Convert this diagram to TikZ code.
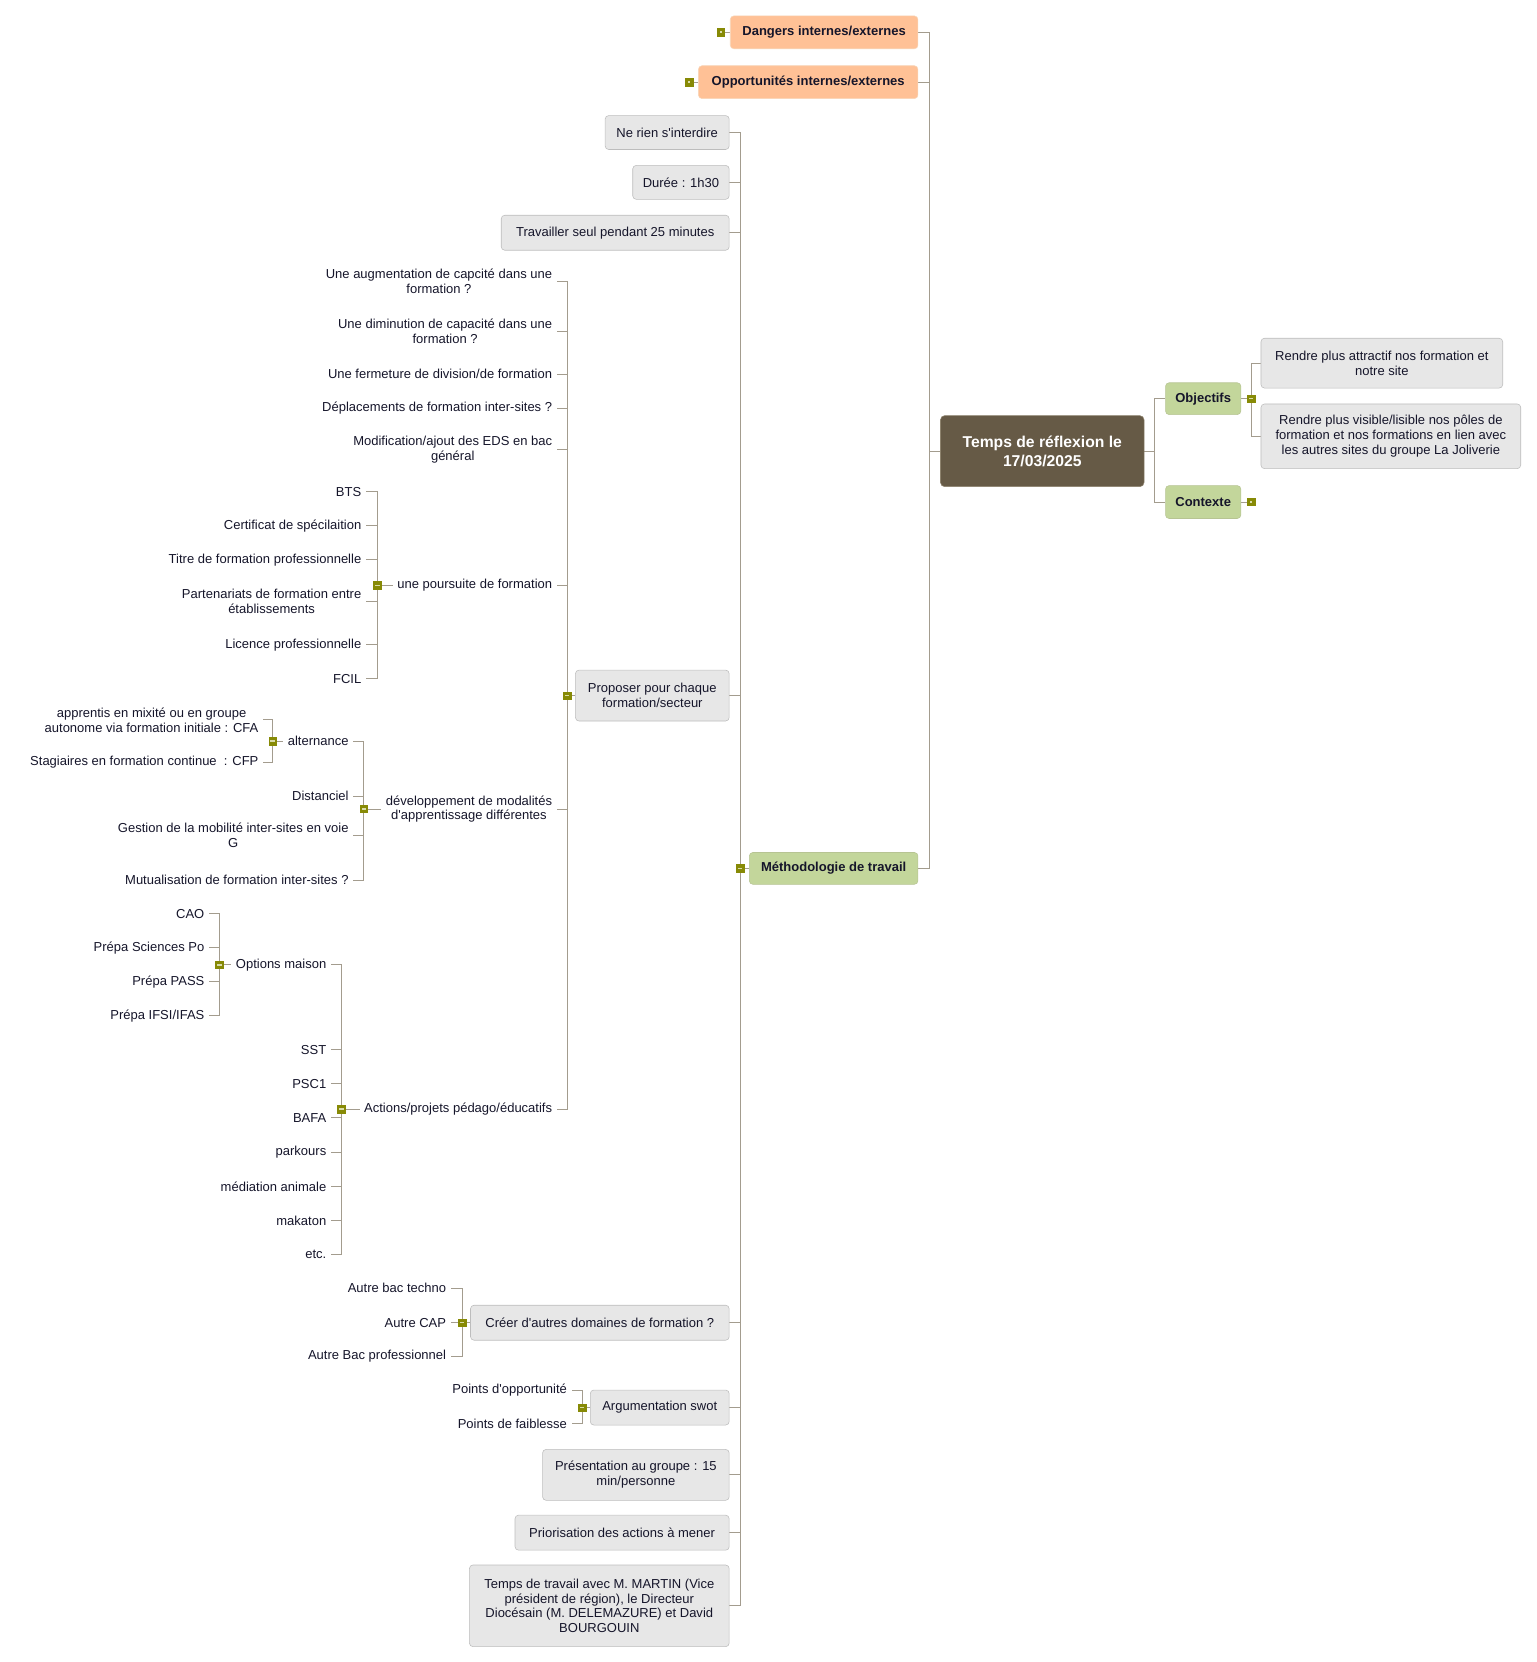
\documentclass[tikz,border=0pt]{standalone}
\usepackage{fontspec}
\setmainfont{Liberation Sans}
\usetikzlibrary{backgrounds}

\definecolor{ink}{HTML}{15152A}
\definecolor{lnk}{HTML}{A39C8E}
\definecolor{boxg}{HTML}{E7E7E7}
\definecolor{boxgline}{HTML}{BDBDBD}
\definecolor{peach}{HTML}{FFC196}
\definecolor{peachline}{HTML}{F8D6B8}
\definecolor{sage}{HTML}{C3D69B}
\definecolor{sageline}{HTML}{B7C493}
\definecolor{bark}{HTML}{665A46}
\definecolor{barkline}{HTML}{8E836E}
\definecolor{olivebtn}{HTML}{878A06}
\definecolor{olivemark}{HTML}{D9DBA8}

\newdimen\mmpx
\mmpx=0.75pt
\newcommand{\apos}{\textquotesingle}

\begin{document}
\begin{tikzpicture}[x=0.75pt,y=-0.75pt,
    every node/.style={font=\fontsize{9.2}{10.5}\selectfont, text=ink},
    sz/.style 2 args={minimum width=#1\mmpx, minimum height=#2\mmpx},
    greybox/.style={draw=boxgline, fill=boxg, rounded corners=2.5pt, align=center, inner xsep=2pt, inner ysep=1pt},
    peachbox/.style={draw=peachline, fill=peach, rounded corners=2.5pt, inner xsep=2pt, font=\fontsize{9.2}{10.5}\selectfont\bfseries},
    sagebox/.style={draw=sageline, fill=sage, rounded corners=2.5pt, inner xsep=2pt, font=\fontsize{9.2}{10.5}\selectfont\bfseries},
    central/.style={draw=barkline, fill=bark, rounded corners=3pt, align=center, text=white, font=\fontsize{11.1}{13.5}\selectfont\bfseries},
    leaf/.style={anchor=east, align=center, inner xsep=3pt, inner ysep=1pt},
    link/.style={draw=lnk, line width=0.7pt},
    mopen/.style={draw=olivebtn, fill=olivebtn, minimum size=7\mmpx, inner sep=0pt,
      path picture={\fill[olivemark] ([shift={(-2,-0.7)}]path picture bounding box.center) rectangle ([shift={(2,0.7)}]path picture bounding box.center);}},
    mshut/.style={draw=olivebtn, fill=olivebtn, minimum size=7\mmpx, inner sep=0pt,
      path picture={\fill[olivemark] ([shift={(-1,-1)}]path picture bounding box.center) rectangle ([shift={(1,1)}]path picture bounding box.center);}}]

\useasboundingbox (0,0) rectangle (1449,1567.5);

\node[central, sz={192}{67}] (centre) at (983,425.5) {Temps de réflexion le\\17/03/2025};

\node[peachbox, sz={177}{31}, anchor=east] (dangers) at (866,30.5) {Dangers internes/externes};
\node[peachbox, sz={207}{31}, anchor=east] (opport) at (866,77.5) {Opportunités internes/externes};
\node[sagebox, sz={159}{30}, anchor=east] (methodo) at (866,819) {Méthodologie de travail};
\node[sagebox, sz={71}{30}, anchor=west] (objectifs) at (1099,376) {Objectifs};
\node[sagebox, sz={71}{31}, anchor=west] (contexte) at (1099,473.5) {Contexte};

\node[greybox, sz={228}{47}, anchor=west] (attractif) at (1189,342.5) {Rendre plus attractif nos formation et\\notre site};
\node[greybox, sz={245}{61}, anchor=west] (visible) at (1189,411.5) {Rendre plus visible/lisible nos pôles de\\formation et nos formations en lien avec\\les autres sites du groupe La Joliverie};

\node[greybox, sz={117}{32}, anchor=east] (nerien) at (688,125) {Ne rien s\apos interdire};
\node[greybox, sz={91}{32}, anchor=east] (duree) at (688,172) {Durée : 1h30};
\node[greybox, sz={215}{33}, anchor=east] (seul) at (688,219.5) {Travailler seul pendant 25 minutes};
\node[greybox, sz={145}{48}, anchor=east] (proposer) at (688,656) {Proposer pour chaque\\formation/secteur};
\node[greybox, sz={244}{33}, anchor=east] (creer) at (688,1247.5) {Créer d\apos autres domaines de formation ?};
\node[greybox, sz={131}{33}, anchor=east] (swot) at (688,1327.5) {Argumentation swot};
\node[greybox, sz={176}{48}, anchor=east] (presentation) at (688,1391) {Présentation au groupe : 15\\min/personne};
\node[greybox, sz={202}{33}, anchor=east] (priorisation) at (688,1445.5) {Priorisation des actions à mener};
\node[greybox, sz={245}{77}, anchor=east] (reunion) at (688,1514.5) {Temps de travail avec M. MARTIN (Vice\\président de région), le Directeur\\Diocésain (M. DELEMAZURE) et David\\BOURGOUIN};

\node[leaf] (augm) at (525,265.5) {Une augmentation de capcité dans une\\formation ?};
\node[leaf] (dimin) at (525,312.5) {Une diminution de capacité dans une\\formation ?};
\node[leaf] (ferm) at (525,353) {Une fermeture de division/de formation};
\node[leaf] (depl) at (525,385) {Déplacements de formation inter-sites ?};
\node[leaf] (modif) at (525,424) {Modification/ajout des EDS en bac\\général};
\node[leaf] (pours) at (525,552) {une poursuite de formation};
\node[leaf] (dev) at (525,763) {développement de modalités\\d\apos apprentissage différentes};
\node[leaf] (act) at (525,1046) {Actions/projets pédago/éducatifs};

\node[leaf] (bts) at (345,464) {BTS};
\node[leaf] (certif) at (345,496) {Certificat de spécilaition};
\node[leaf] (titre) at (345,528) {Titre de formation professionnelle};
\node[leaf] (partn) at (345,567) {Partenariats de formation entre\\établissements};
\node[leaf] (licence) at (345,608) {Licence professionnelle};
\node[leaf] (fcil) at (345,640) {FCIL};

\node[leaf] (alt) at (333,699) {alternance};
\node[leaf] (dist) at (333,751) {Distanciel};
\node[leaf] (mobil) at (333,788) {Gestion de la mobilité inter-sites en voie\\G};
\node[leaf] (mutu) at (333,830) {Mutualisation de formation inter-sites ?};

\node[leaf] (cfa) at (248,679) {apprentis en mixité ou en groupe\\autonome via formation initiale : CFA};
\node[leaf] (cfp) at (248,719) {Stagiaires en formation continue \ : CFP};

\node[leaf] (options) at (312,910) {Options maison};
\node[leaf] (sst) at (312,990) {SST};
\node[leaf] (psc) at (312,1022) {PSC1};
\node[leaf] (bafa) at (312,1054) {BAFA};
\node[leaf] (parkours) at (312,1087) {parkours};
\node[leaf] (mediation) at (312,1119) {médiation animale};
\node[leaf] (makaton) at (312,1151) {makaton};
\node[leaf] (etc) at (312,1183) {etc.};

\node[leaf] (cao) at (197,862) {CAO};
\node[leaf] (scpo) at (197,894) {Prépa Sciences Po};
\node[leaf] (pass) at (197,926) {Prépa PASS};
\node[leaf] (ifsi) at (197,958) {Prépa IFSI/IFAS};

\node[leaf] (techno) at (425,1215) {Autre bac techno};
\node[leaf] (cap) at (425,1247.5) {Autre CAP};
\node[leaf] (bacpro) at (425,1279) {Autre Bac professionnel};

\node[leaf] (opportun) at (539,1311) {Points d\apos opportunité};
\node[leaf] (faible) at (539,1343) {Points de faiblesse};

\node[mshut] (mdang) at (680,30.5) {};
\node[mshut] (mopp) at (650,77.5) {};
\node[mshut] (mctx) at (1180,473.5) {};
\node[mopen] (mobj) at (1180,376) {};
\node[mopen] (mmeth) at (698,819) {};
\node[mopen] (mprop) at (535,656) {};
\node[mopen] (mpours) at (356,552) {};
\node[mopen] (mdev) at (343,763) {};
\node[mopen] (malt) at (257,699) {};
\node[mopen] (mact) at (322,1046) {};
\node[mopen] (mopt) at (207,910) {};
\node[mopen] (mcreer) at (436,1247.5) {};
\node[mopen] (mswot) at (549,1327.5) {};

\begin{pgfonlayer}{background}
\draw[link] (centre.west) -- ++(-10,0) coordinate (trunkl);
\foreach \n in {dangers,opport,methodo}
  \draw[link] (trunkl) |- (\n.east);
\draw[link] (centre.east) -- ++(10,0) coordinate (trunkr);
\foreach \n in {objectifs,contexte}
  \draw[link] (trunkr) |- (\n.west);
\draw[link] (objectifs.east) -- (mobj.center);
\foreach \n in {attractif,visible}
  \draw[link] (mobj.center) |- (\n.west);
\draw[link] (contexte.east) -- (mctx.center);
\draw[link] (mdang.center) -- (dangers.west);
\draw[link] (mopp.center) -- (opport.west);

\draw[link] (mmeth.center) -- (methodo.west);
\foreach \n in {nerien,duree,seul,proposer,creer,swot,presentation,priorisation,reunion}
  \draw[link] (mmeth.center) |- (\n.east);

\draw[link] (mprop.center) -- (proposer.west);
\foreach \n in {augm,dimin,ferm,depl,modif,pours,dev,act}
  \draw[link] (mprop.center) |- (\n.east);

\draw[link] (mpours.center) -- (pours.west);
\foreach \n in {bts,certif,titre,partn,licence,fcil}
  \draw[link] (mpours.center) |- (\n.east);

\draw[link] (mdev.center) -- (dev.west);
\foreach \n in {alt,dist,mobil,mutu}
  \draw[link] (mdev.center) |- (\n.east);

\draw[link] (malt.center) -- (alt.west);
\foreach \n in {cfa,cfp}
  \draw[link] (malt.center) |- (\n.east);

\draw[link] (mact.center) -- (act.west);
\foreach \n in {options,sst,psc,bafa,parkours,mediation,makaton,etc}
  \draw[link] (mact.center) |- (\n.east);

\draw[link] (mopt.center) -- (options.west);
\foreach \n in {cao,scpo,pass,ifsi}
  \draw[link] (mopt.center) |- (\n.east);

\draw[link] (mcreer.center) -- (creer.west);
\foreach \n in {techno,cap,bacpro}
  \draw[link] (mcreer.center) |- (\n.east);

\draw[link] (mswot.center) -- (swot.west);
\foreach \n in {opportun,faible}
  \draw[link] (mswot.center) |- (\n.east);
\end{pgfonlayer}
\end{tikzpicture}
\end{document}
